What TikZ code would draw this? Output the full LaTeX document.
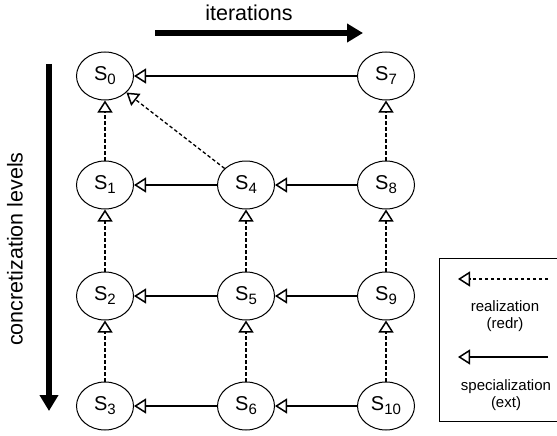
\documentclass[tikz,border=0pt]{standalone}
\usepackage{fontspec}
\setmainfont{Liberation Sans}
\usetikzlibrary{shapes.geometric, arrows.meta}

\newcommand{\stname}[1]{S\raisebox{-4pt}{\fontsize{15}{15}\selectfont #1}}

\tikzset{
	state/.style={draw, ellipse, line width=1pt, minimum width=57pt, minimum height=48pt, inner sep=0pt, font=\fontsize{20}{20}\selectfont},
	spec/.style={line width=1.3pt, -{Triangle[open, length=12pt, width=15pt, line width=1.5pt]}},
	redr/.style={spec, dash pattern=on 3.5pt off 2.5pt},
	flow/.style={line width=6pt, -{Triangle[length=16pt, width=18pt]}},
	axis label/.style={font=\fontsize{21.5}{21.5}\selectfont},
	legend label/.style={font=\fontsize{15}{17}\selectfont, align=center}
}

\begin{document}
\begin{tikzpicture}[x=1pt, y=-1pt]
			\useasboundingbox (0,0) rectangle (557,436);

			% states
			\node[state] (s0) at (105,76) {\stname{0}};
			\node[state] (s7) at (386,76) {\stname{7}};
			\node[state] (s1) at (105,185) {\stname{1}};
			\node[state] (s4) at (246,185) {\stname{4}};
			\node[state] (s8) at (386,185) {\stname{8}};
			\node[state] (s2) at (105,296) {\stname{2}};
			\node[state] (s5) at (246,296) {\stname{5}};
			\node[state] (s9) at (386,296) {\stname{9}};
			\node[state] (s3) at (105,406) {\stname{3}};
			\node[state] (s6) at (246,406) {\stname{6}};
			\node[state] (s10) at (386,406) {\stname{10}};

			% specializations
			\foreach \a/\b in {s7/s0, s4/s1, s8/s4, s5/s2, s9/s5, s6/s3, s10/s6}
			{
				\draw[spec] (\a) -- (\b);
			}

			% realizations
			\foreach \a/\b in {s1/s0, s2/s1, s3/s2, s5/s4, s6/s5, s8/s7, s9/s8, s10/s9, s4/s0}
			{
				\draw[redr] (\a) -- (\b);
			}

			% axes
			\coordinate (itA) at (155,33);
			\coordinate (itB) at (363,33);
			\draw[flow] (itA) -- (itB);
			\node[axis label] (it) at (249,13) {iterations};

			\coordinate (lvA) at (49,64);
			\coordinate (lvB) at (49,411);
			\draw[flow] (lvA) -- (lvB);
			\node[axis label, rotate=90] (lv) at (15,249) {concretization levels};

			% legend
			\node[draw, line width=1pt, minimum width=118pt, minimum height=163pt] (leg) at (498,339.5) {};
			\coordinate (rA) at (548,279);
			\coordinate (rB) at (458,279);
			\draw[redr] (rA) -- (rB);
			\node[legend label] (rl) at (505,316) {realization\\(redr)};
			\coordinate (sA) at (548,357);
			\coordinate (sB) at (458,357);
			\draw[spec] (sA) -- (sB);
			\node[legend label] (sl) at (506,395) {specialization\\(ext)};
		\end{tikzpicture}
\end{document}
